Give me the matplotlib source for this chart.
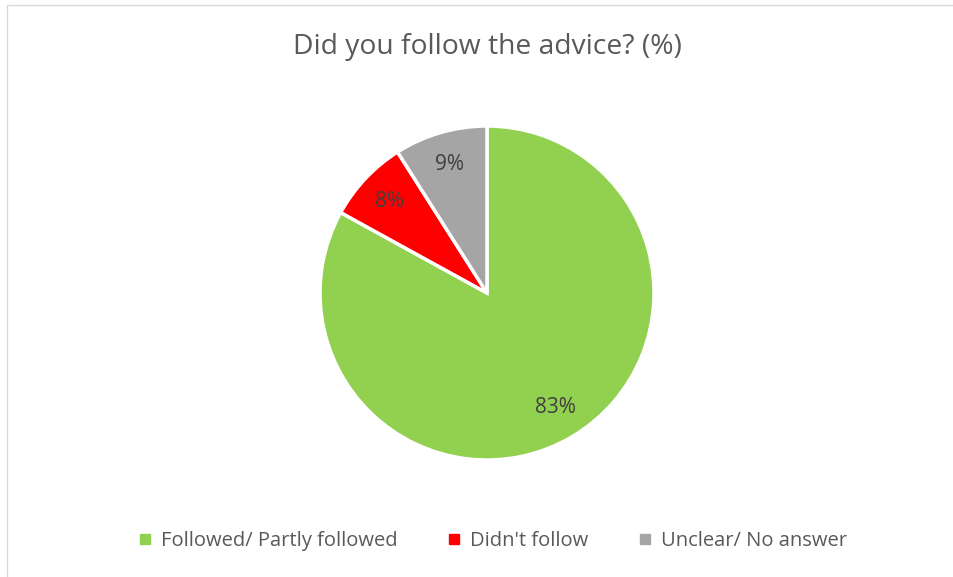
import matplotlib
matplotlib.use("Agg")
import matplotlib.pyplot as plt
from matplotlib.lines import Line2D
from matplotlib.patches import Rectangle

labels = ["Followed/ Partly followed", "Didn't follow", "Unclear/ No answer"]
values = [83, 8, 9]
colors = ["#92d050", "#ff0000", "#a5a5a5"]

plt.rcParams['font.family'] = ['Open Sans', 'DejaVu Sans']
txt_color = "#595959"

fig = plt.figure(figsize=(9.54, 5.77), dpi=100)

# thin chart border like the office export
fig.patches.append(Rectangle((7 / 954, -0.01), 1.0, 1 - 5 / 577 + 0.01,
                             transform=fig.transFigure, fill=False,
                             edgecolor="#d9d9d9", lw=1))

ax = fig.add_axes([320 / 954, 117 / 577, 334 / 954, 334 / 577])
wedges, texts, autotexts = ax.pie(
    values, colors=colors, startangle=90, counterclock=False,
    autopct="%d%%", pctdistance=0.8, radius=1,
    wedgeprops=dict(edgecolor="white", linewidth=2.5),
    textprops=dict(color="#404040", fontsize=15))
ax.set_xlim(-1, 1)
ax.set_ylim(-1, 1)
ax.set_aspect("equal")

fig.text(487 / 954, 1 - 47 / 577, "Did you follow the advice? (%)", ha="center",
         va="center", fontsize=20.3, color=txt_color)

handles = [Line2D([], [], marker="s", ls="", color=c, markersize=7) for c in colors]
fig.legend(handles, labels, loc="center", bbox_to_anchor=(491 / 954, 1 - 541 / 577),
           ncol=3, frameon=False, fontsize=14.5, labelcolor=txt_color,
           handletextpad=0.3, columnspacing=2.3, handlelength=1.0)

fig.savefig("out.png", dpi=100)
